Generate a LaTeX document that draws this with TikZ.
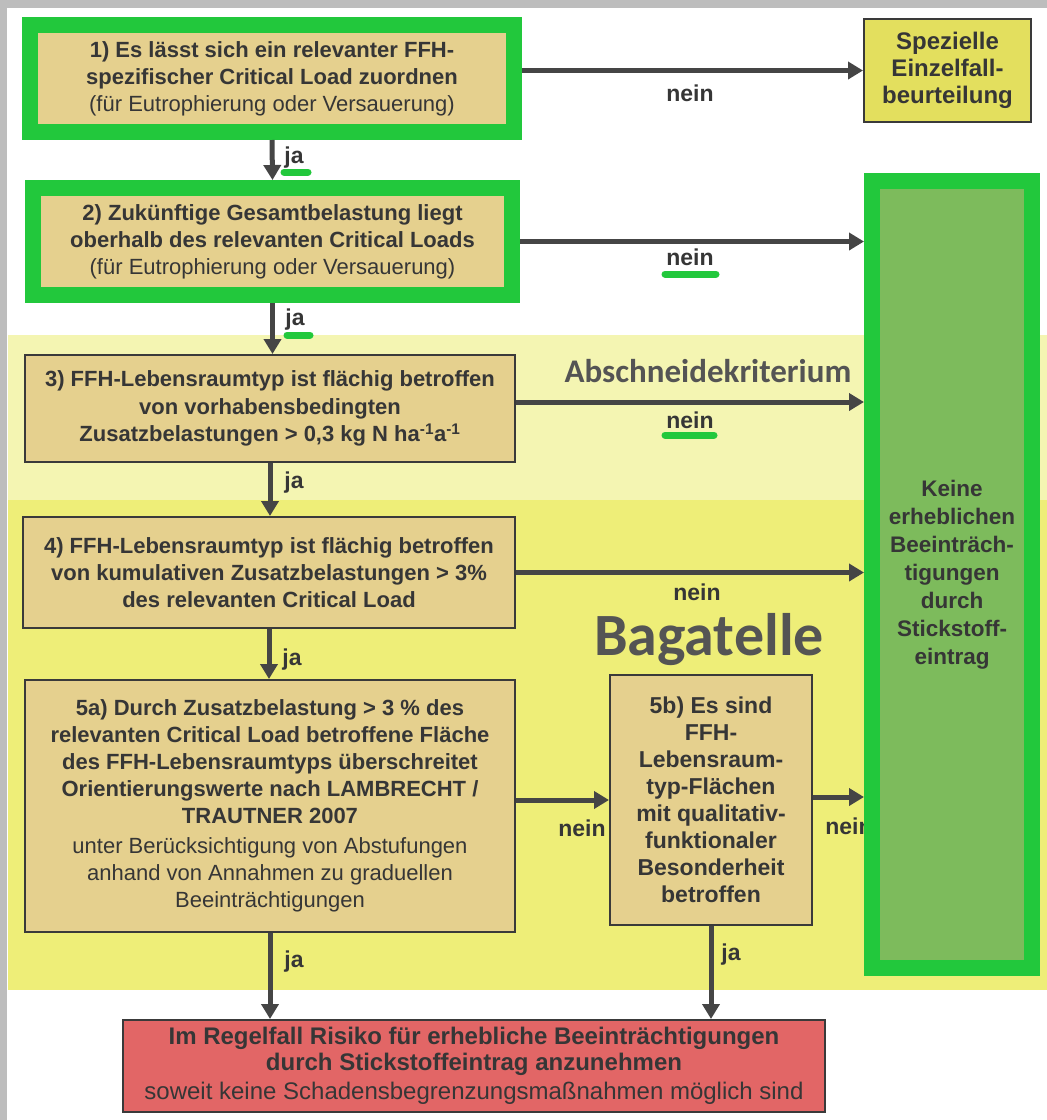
\documentclass[tikz,border=0pt]{standalone}
\usepackage{fontspec}
\setmainfont{Liberation Sans}
\newfontfamily\calfont{Carlito}
\usetikzlibrary{arrows.meta}
\definecolor{grn}{HTML}{22C83C}
\definecolor{tan}{HTML}{E5D08E}
\definecolor{ingreen}{HTML}{7DBB5C}
\definecolor{spezy}{HTML}{E3DF5E}
\definecolor{redbox}{HTML}{E26666}
\definecolor{txt}{HTML}{363636}
\definecolor{arrc}{HTML}{454545}
\definecolor{boxline}{HTML}{3A3A3A}
\definecolor{paley}{HTML}{F4F5B2}
\definecolor{strongy}{HTML}{EEEE78}
\definecolor{frame}{HTML}{BDBDBD}
\begin{document}
\begin{tikzpicture}[x=1pt,y=-1pt,
  box/.style={draw=boxline, line width=2pt, fill=tan, text=txt, align=center, inner sep=0pt, font=\fontsize{22}{27}\selectfont},
  gbox/.style={draw=grn, line width=16pt, fill=tan, text=txt, align=center, inner sep=0pt, font=\fontsize{22}{27}\selectfont},
  arr/.style={draw=arrc, line width=5pt, -{Triangle[width=17pt,length=15pt]}},
  lab/.style={text=txt, font=\bfseries\fontsize{23}{26}\selectfont, inner sep=0pt},
  hl/.style={draw=grn, line width=7pt, line cap=round},
  zone/.style={text=txt!85!white, inner sep=0pt, anchor=base}]
\useasboundingbox (0,0) rectangle (1047,1120);
% page and bands
\fill[frame] (0,0) rectangle (1047,1120);
\fill[white] (7,8) rectangle (1047,1120);
\fill[paley] (8,335) rectangle (1047,500);
\fill[strongy] (8,500) rectangle (1047,990);
% zone titles
\node[zone, font=\calfont\bfseries\fontsize{33}{36}\selectfont] (abs) at (708,382) {Abschneidekriterium};
\node[zone, font=\calfont\bfseries\fontsize{60}{64}\selectfont] (bag) at (709,655) {Bagatelle};
% label partly hidden by green box
\node[lab] (n5b) at (849,826) {nein};
% boxes
\node[gbox, minimum width=484pt, minimum height=107pt] (b1) at (272,78.5)
  {\textbf{1) Es lässt sich ein relevanter FFH-}\\\textbf{spezifischer Critical Load zuordnen}\\(für Eutrophierung oder Versauerung)};
\node[gbox, minimum width=479pt, minimum height=107pt] (b2) at (272.5,241.5)
  {\textbf{2) Zukünftige Gesamtbelastung liegt}\\\textbf{oberhalb des relevanten Critical Loads}\\(für Eutrophierung oder Versauerung)};
\node[box, fill=spezy, minimum width=167pt, minimum height=103pt, font=\bfseries\fontsize{24}{27}\selectfont] (spez) at (947.5,70.5)
  {Spezielle\\Einzelfall-\\beurteilung};
\node[gbox, fill=ingreen, minimum width=160pt, minimum height=787pt, font=\bfseries\fontsize{22.5}{28}\selectfont] (keine) at (952,574.5)
  {Keine\\erheblichen\\Beeinträch-\\tigungen\\durch\\Stickstoff-\\eintrag};
\node[box, minimum width=490pt, minimum height=107pt, font=\bfseries\fontsize{22}{27.5}\selectfont] (b3) at (270,408.5)
  {3) FFH-Lebensraumtyp ist flächig betroffen\\von vorhabensbedingten\\Zusatzbelastungen > 0,3 kg N ha\textsuperscript{-1}a\textsuperscript{-1}};
\node[box, minimum width=492pt, minimum height=111pt, font=\bfseries\fontsize{22}{27}\selectfont] (b4) at (269,572.5)
  {4) FFH-Lebensraumtyp ist flächig betroffen\\von kumulativen Zusatzbelastungen > 3\%\\des relevanten Critical Load};
\node[box, minimum width=490pt, minimum height=252pt] (b5a) at (270,806)
  {\textbf{5a) Durch Zusatzbelastung > 3 \% des}\\\textbf{relevanten Critical Load betroffene Fläche}\\\textbf{des FFH-Lebensraumtyps überschreitet}\\\textbf{Orientierungswerte nach LAMBRECHT /}\\\textbf{TRAUTNER 2007}\\[3pt]unter Berücksichtigung von Abstufungen\\anhand von Annahmen zu graduellen\\Beeinträchtigungen};
\node[box, minimum width=202pt, minimum height=250pt, font=\bfseries\fontsize{23}{27}\selectfont] (b5b) at (711,800)
  {5b) Es sind\\FFH-\\Lebensraum-\\typ-Flächen\\mit qualitativ-\\funktionaler\\Besonderheit\\betroffen};
\node[box, fill=redbox, minimum width=702pt, minimum height=92pt, font=\fontsize{24}{26}\selectfont] (red) at (474,1066)
  {\textbf{Im Regelfall Risiko für erhebliche Beeinträchtigungen}\\\textbf{durch Stickstoffeintrag anzunehmen}\\[3pt]soweit keine Schadensbegrenzungsmaßnahmen möglich sind};
% connectors
\draw[arr] (b1.east |- spez.west) -- (spez.west);
\draw[arr] (b1.south) -- (b2.north);
\draw[arr] (b2.east) -- (b2.east -| keine.west);
\draw[arr] (b2.south) -- (b2.south |- b3.north);
\draw[arr] (b3.east |- 0,402) -- (keine.west |- 0,402);
\draw[arr] (b3.south) -- (b3.south |- b4.north);
\draw[arr] (b4.east) -- (b4.east -| keine.west);
\draw[arr] (b4.south) -- (b4.south |- b5a.north);
\draw[arr] (b5a.east |- b5b.west) -- (b5b.west);
\draw[arr] (b5b.east |- 0,797) -- (keine.west |- 0,797);
\draw[arr] (b5a.south) -- (b5a.south |- red.north);
\draw[arr] (b5b.south) -- (b5b.south |- red.north);
% labels
\node[lab] (n1) at (690,93) {nein};
\node[lab] (j1) at (294,158) {ja};
\node[lab] (n2) at (690,257) {nein};
\node[lab] (j2) at (295,320) {ja};
\node[lab] (n3) at (690,420) {nein};
\node[lab] (j3) at (294,483) {ja};
\node[lab] (n4) at (697,592) {nein};
\node[lab] (j4) at (292,660) {ja};
\node[lab] (n5a) at (582,828) {nein};
\node[lab] (j5a) at (294,962) {ja};
\node[lab] (j5b) at (731,955) {ja};
% green highlights
\draw[hl] (284,172) -- (308,172);
\draw[hl] (665,274) -- (716,274);
\draw[hl] (287,335) -- (310,335);
\draw[hl] (665,435) -- (714,435);
\end{tikzpicture}
\end{document}
